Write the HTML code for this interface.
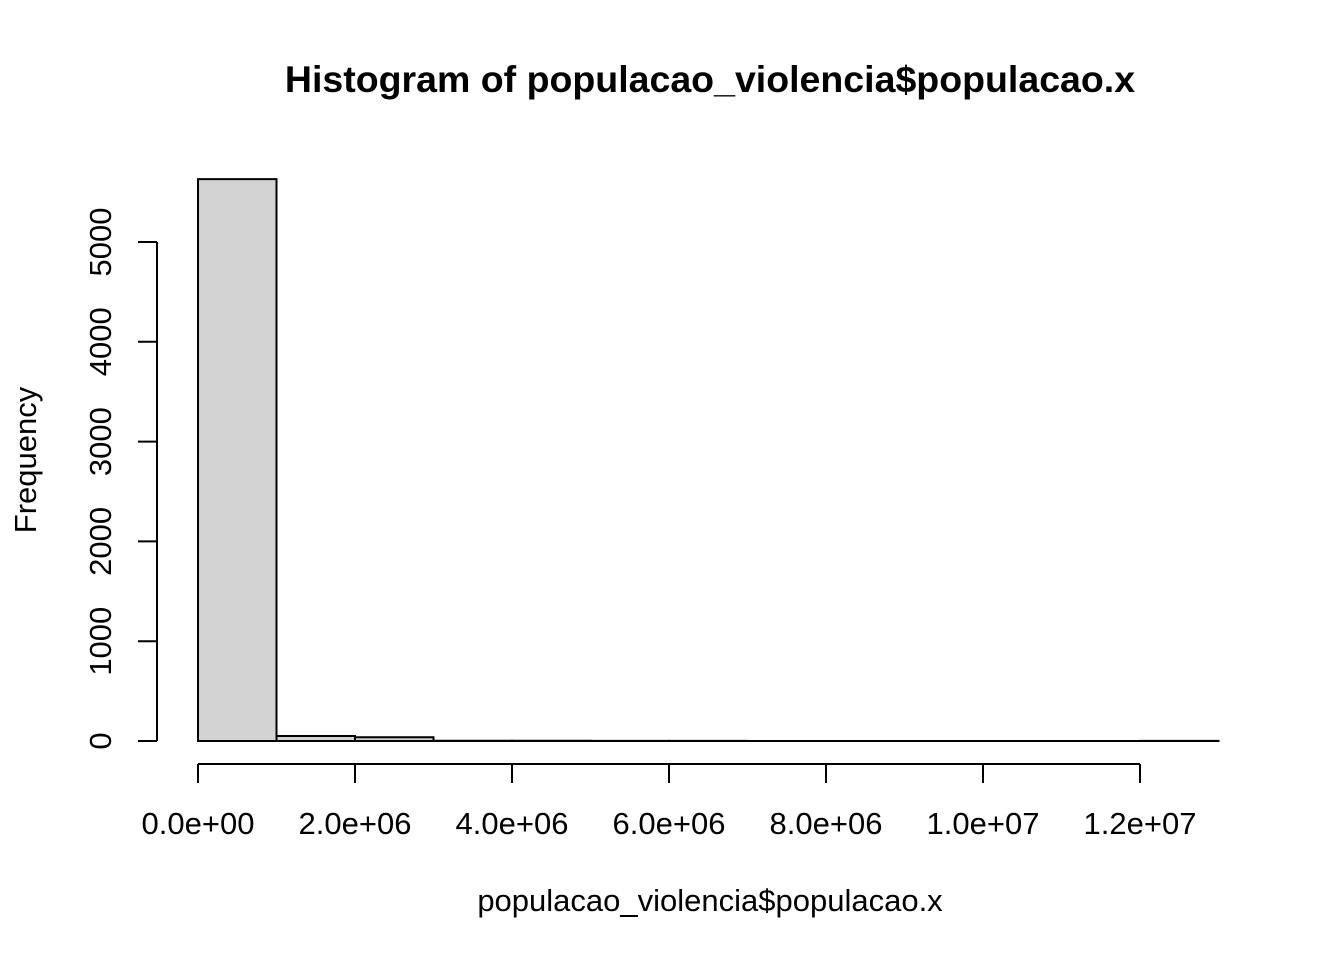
<!DOCTYPE html>
<html><head><meta charset="utf-8"><style>
body{margin:0;background:#fff;}
svg{display:block;font-family:"Liberation Sans",Arial,sans-serif;}
</style></head><body>
<svg id="chart" width="1344" height="960">
<text x="710" y="92" text-anchor="middle" font-size="37.5" font-weight="bold">Histogram of populacao_violencia$populacao.x</text>
<text x="710" y="911" text-anchor="middle" font-size="31">populacao_violencia$populacao.x</text>
<text transform="translate(36,460) rotate(-90)" text-anchor="middle" font-size="31">Frequency</text>
<g id="bars"></g>
<g id="xaxis"></g>
<g id="yaxis"></g>
</svg>
<script>
const binStarts=[0,1e6,2e6,3e6,4e6,5e6,6e6,7e6,8e6,9e6,10e6,11e6,12e6];
const counts=[5630,50,37,3,2,1,1,0,0,0,0,0,1];
const binWidth=1e6;
const xTicks=[0,2e6,4e6,6e6,8e6,10e6,12e6];
const xTickLabels=["0.0e+00","2.0e+06","4.0e+06","6.0e+06","8.0e+06","1.0e+07","1.2e+07"];
const yTicks=[0,1000,2000,3000,4000,5000];
const NS="http://www.w3.org/2000/svg";
const X=v=>198+v*(355-198)/2e6;
const Y=v=>741-v*(741-242)/5000;
function mk(tag,attrs,parent){const e=document.createElementNS(NS,tag);for(const k in attrs)e.setAttribute(k,attrs[k]);parent.appendChild(e);return e;}
const bars=document.getElementById('bars');
counts.forEach((c,i)=>{
  const x0=X(binStarts[i]),x1=X(binStarts[i]+binWidth),y0=Y(0),y1=Y(c);
  const p=mk('path',{d:`M${x0},${y0}L${x0},${y1}L${x1},${y1}L${x1},${y0}Z`,fill:'#d3d3d3',stroke:'#000','stroke-width':2},bars);
  
  
});
const xa=document.getElementById('xaxis');
mk('line',{x1:X(xTicks[0]),x2:X(xTicks[xTicks.length-1]),y1:764,y2:764,stroke:'#000','stroke-width':2},xa);
xTicks.forEach((t,i)=>{
  mk('line',{x1:X(t),x2:X(t),y1:764,y2:783,stroke:'#000','stroke-width':2},xa);
  const tx=mk('text',{x:X(t),y:834,'text-anchor':'middle','font-size':31},xa);
  tx.textContent=xTickLabels[i];
  
  
});
const ya=document.getElementById('yaxis');
mk('line',{x1:157,x2:157,y1:Y(yTicks[0]),y2:Y(yTicks[yTicks.length-1]),stroke:'#000','stroke-width':2},ya);
yTicks.forEach(t=>{
  mk('line',{x1:138,x2:157,y1:Y(t),y2:Y(t),stroke:'#000','stroke-width':2},ya);
  const tx=mk('text',{transform:`translate(111,${Y(t)}) rotate(-90)`,'text-anchor':'middle','font-size':31},ya);
  tx.textContent=String(t);
  
  
});
</script>
</body></html>
